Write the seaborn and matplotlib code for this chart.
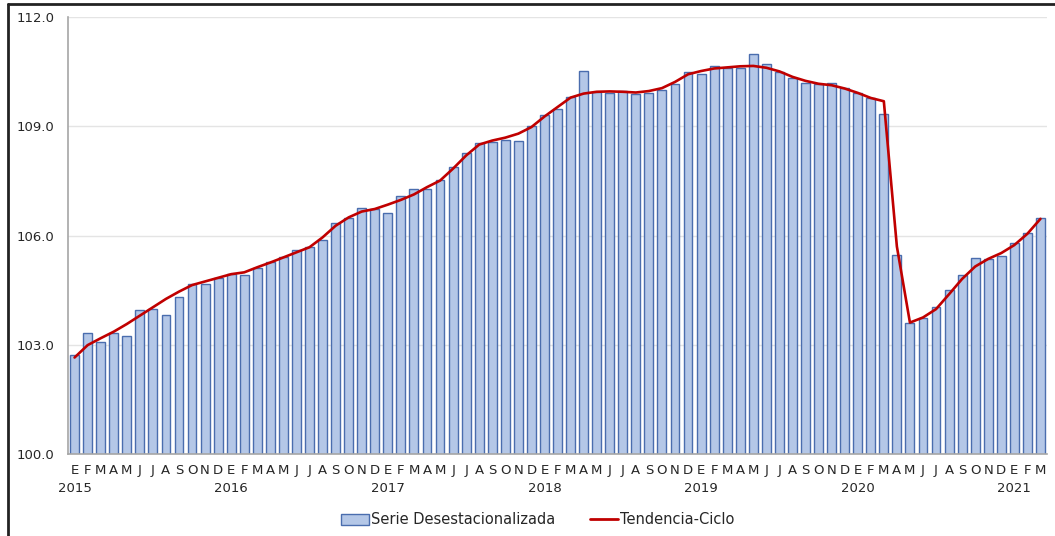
#!/usr/bin/env python3

import numpy as np
import pandas as pd
import matplotlib
matplotlib.use("Agg")
import matplotlib.pyplot as plt
import seaborn as sns
from matplotlib.lines import Line2D
from matplotlib.patches import Patch

# monthly index, Jan 2015 - Mar 2021
month_letters = ["E", "F", "M", "A", "M", "J", "J", "A", "S", "O", "N", "D"]
years = ["2015", "2016", "2017", "2018", "2019", "2020", "2021"]

serie = [
    # 2015
    102.71, 103.33, 103.09, 103.33, 103.24, 103.95, 103.98, 103.82, 104.30, 104.68, 104.66, 104.84,
    # 2016
    104.95, 104.93, 105.11, 105.27, 105.41, 105.61, 105.68, 105.89, 106.34, 106.49, 106.75, 106.72,
    # 2017
    106.62, 107.10, 107.28, 107.27, 107.53, 107.88, 108.27, 108.55, 108.57, 108.63, 108.61, 109.02,
    # 2018
    109.32, 109.47, 109.80, 110.51, 109.94, 109.93, 109.97, 109.90, 109.93, 110.01, 110.17, 110.49,
    # 2019
    110.45, 110.66, 110.59, 110.60, 110.99, 110.70, 110.49, 110.34, 110.20, 110.16, 110.19, 110.06,
    # 2020
    109.92, 109.79, 109.35, 105.47, 103.61, 103.73, 104.03, 104.50, 104.91, 105.38, 105.36, 105.43,
    # 2021
    105.80, 106.06, 106.49,
]

tendencia = [
    # 2015
    102.65, 102.99, 103.18, 103.36, 103.57, 103.80, 104.03, 104.26, 104.46, 104.64, 104.74, 104.84,
    # 2016
    104.94, 104.99, 105.13, 105.26, 105.40, 105.54, 105.68, 105.95, 106.27, 106.50, 106.66, 106.73,
    # 2017
    106.85, 106.98, 107.13, 107.33, 107.51, 107.84, 108.20, 108.50, 108.61, 108.69, 108.80, 108.98,
    # 2018
    109.27, 109.53, 109.79, 109.90, 109.95, 109.96, 109.95, 109.93, 109.97, 110.05, 110.22, 110.43,
    # 2019
    110.52, 110.59, 110.62, 110.65, 110.66, 110.61, 110.51, 110.36, 110.25, 110.17, 110.13, 110.04,
    # 2020
    109.92, 109.78, 109.69, 105.70, 103.61, 103.75, 103.98, 104.39, 104.81, 105.15, 105.36, 105.52,
    # 2021
    105.74, 106.05, 106.46,
]

BAR_FILL = "#B4C7E7"
BAR_EDGE = "#4A6DAE"
RED = "#C00000"
GREY = "#A6A6A6"
TXT = "#262626"

n = len(serie)
df = pd.DataFrame({"mes": range(n), "serie": serie, "tendencia": tendencia})

sns.set_style("white")
plt.rcParams["font.family"] = ["DejaVu Sans"]

fig, ax = plt.subplots(figsize=(10.55, 5.36), dpi=100)
fig.subplots_adjust(left=0.0645, right=0.9924, bottom=0.153, top=0.968)

sns.barplot(data=df, x="mes", y="serie", color=BAR_FILL, saturation=1,
            width=0.68, edgecolor=BAR_EDGE, linewidth=1, ax=ax)
sns.lineplot(data=df, x="mes", y="tendencia", color=RED, lw=1.9, ax=ax)

ax.set_xlim(-0.5, n - 0.5)
ax.set_ylim(100, 112)
yt = np.arange(100, 112.1, 3)
ax.set_yticks(yt, labels=[f"{v:.1f}" for v in yt])
ax.yaxis.grid(True, color="#E4E4E4", lw=1)
ax.set_axisbelow(True)
ax.set_xlabel("")
ax.set_ylabel("")

# month letters under every bar, year under each January
ax.set_xticks(range(n), labels=[month_letters[i % 12] for i in range(n)])
ax.set_xticks(np.arange(-0.5, n, 12), minor=True)
ax.tick_params(axis="x", which="major", length=0, pad=7, labelsize=9.5, labelcolor=TXT)
ax.tick_params(axis="x", which="minor", length=5, width=1, color=GREY)
ax.tick_params(axis="y", length=0, pad=10, labelsize=9.5, labelcolor=TXT)
for k, yr in enumerate(years):
    ax.text(k * 12, -0.078, yr, transform=ax.get_xaxis_transform(),
            ha="center", va="center", fontsize=9.5, color=TXT)

sns.despine(ax=ax)
for s in ["left", "bottom"]:
    ax.spines[s].set_color(GREY)
    ax.spines[s].set_linewidth(1.2)

handles = [Patch(facecolor=BAR_FILL, edgecolor=BAR_EDGE, lw=1),
           Line2D([], [], color=RED, lw=2)]
fig.legend(handles, ["Serie Desestacionalizada", "Tendencia-Ciclo"],
           loc="center", bbox_to_anchor=(0.51, 1 - 520 / 536), ncol=2,
           frameon=False, fontsize=10.5, handlelength=1.9, handleheight=0.7,
           handletextpad=0.15, columnspacing=2.4, labelcolor=TXT)

# border of the cropped frame
fig.add_artist(Line2D([0.0076, 1], [0.9925, 0.9925], transform=fig.transFigure,
                      color="#222222", lw=2))
fig.add_artist(Line2D([0.0076, 0.0076], [0, 0.9925], transform=fig.transFigure,
                      color="#222222", lw=2))

fig.savefig("out.png", dpi=100)
